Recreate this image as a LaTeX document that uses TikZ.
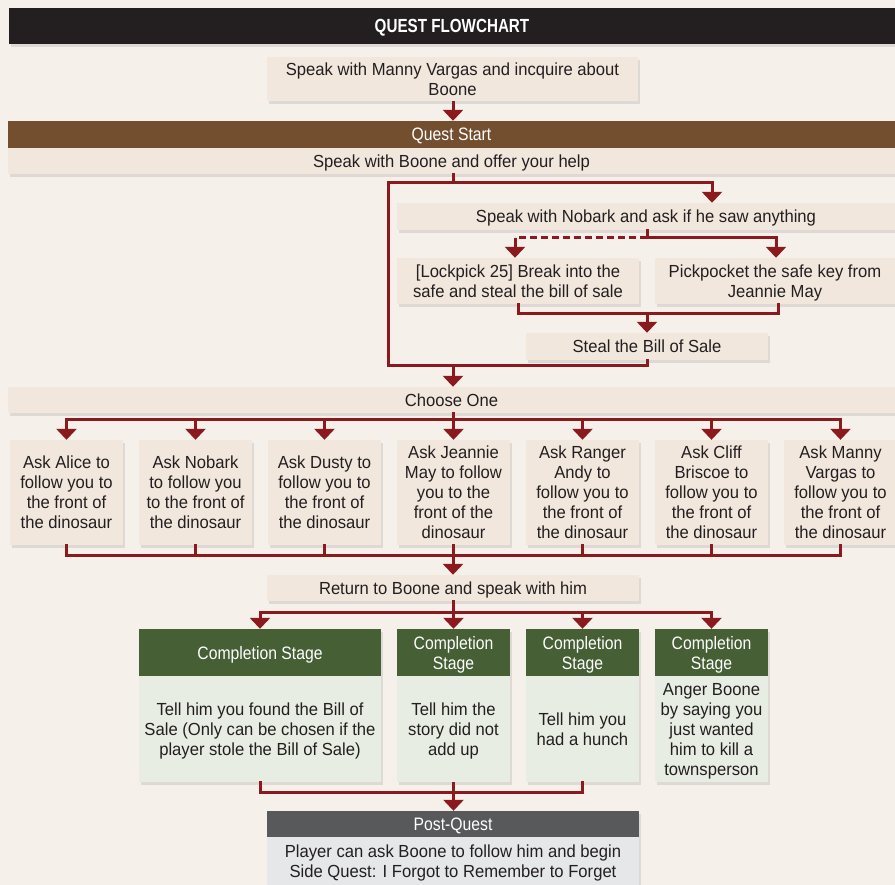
\documentclass[tikz,border=0pt]{standalone}
\usepackage{fontspec}
\setmainfont{Liberation Sans}[FakeStretch=0.95]
\newfontfamily\condfont{Liberation Sans}[FakeStretch=0.875]
\newfontfamily\ttlface{Liberation Sans}[FakeStretch=0.8]
\usetikzlibrary{arrows.meta,shadows}
\definecolor{bgc}{HTML}{F6F0EA}
\definecolor{boxc}{HTML}{F1E7DD}
\definecolor{titlec}{HTML}{231F20}
\definecolor{brownc}{HTML}{734F2F}
\definecolor{redc}{HTML}{8B1A1E}
\definecolor{greenc}{HTML}{465F34}
\definecolor{lgreen}{HTML}{E8EDE3}
\definecolor{greyc}{HTML}{58595B}
\definecolor{lgrey}{HTML}{E6E7E9}
\definecolor{txtc}{HTML}{231F20}
\newcommand\bodyfont{\fontsize{17.5}{20}\selectfont}
\newcommand\hdrfont{\condfont\fontsize{18}{20}\selectfont}
\newcommand\ttlfont{\ttlface\bfseries\fontsize{19}{20}\selectfont}
\begin{document}
\begin{tikzpicture}[x=1pt,y=-1pt,
  shade/.style={drop shadow={opacity=0.2,shadow xshift=2pt,shadow yshift=-3pt}},
  box/.style={shade,fill=boxc,draw=none,inner sep=0pt,align=center,text=txtc,font=\bodyfont,text depth=0pt},
  hdr/.style={shade,draw=none,inner sep=0pt,align=center,text=white,font=\hdrfont,text depth=0pt},
  askbox/.style={box,minimum width=113pt,minimum height=105pt},
  ghdr/.style={hdr,fill=greenc,minimum height=47pt},
  gbody/.style={box,fill=lgreen,minimum height=106pt},
  ln/.style={draw=redc,line width=3pt,line cap=rect,line join=miter},
  arr/.style={draw=redc,line width=3pt,line cap=butt,-{Triangle[width=20pt,length=11pt]}}
]
\fill[bgc] (0,0) rectangle (895,885);
\useasboundingbox (0,0) rectangle (895,885);

% title
\node[hdr,fill=titlec,minimum width=886pt,minimum height=36pt,font=\ttlfont] (title) at (452,26) {QUEST FLOWCHART};
\node[box,minimum width=371pt,minimum height=44pt] (manny) at (452.5,79) {Speak with Manny Vargas and incquire about\\Boone};
\node[hdr,fill=brownc,minimum width=887pt,minimum height=27pt] (qstart) at (451.5,134.5) {Quest Start};
\node[box,minimum width=887pt,minimum height=26pt] (boone) at (451.5,161) {Speak with Boone and offer your help};
\node[box,minimum width=498pt,minimum height=27pt] (nobark) at (646,216.5) {Speak with Nobark and ask if he saw anything};
\node[box,minimum width=242pt,minimum height=46pt] (lock) at (518,281) {[Lockpick 25] Break into the\\safe and steal the bill of sale};
\node[box,minimum width=240pt,minimum height=46pt] (pick) at (775,281) {Pickpocket the safe key from\\Jeannie May};
\node[box,minimum width=242pt,minimum height=27pt] (steal) at (647,346.5) {Steal the Bill of Sale};
\node[box,minimum width=887pt,minimum height=26pt] (choose) at (451.5,400) {Choose One};

\node[askbox] (ask1) at (66.5,492.5) {Ask Alice to\\follow you to\\the front of\\the dinosaur};
\node[askbox] (ask2) at (195.5,492.5) {Ask Nobark\\to follow you\\to the front of\\the dinosaur};
\node[askbox] (ask3) at (324.5,492.5) {Ask Dusty to\\follow you to\\the front of\\the dinosaur};
\node[askbox] (ask4) at (453.5,492.5) {Ask Jeannie\\May to follow\\you to the\\front of the\\dinosaur};
\node[askbox] (ask5) at (582.5,492.5) {Ask Ranger\\Andy to\\follow you to\\the front of\\the dinosaur};
\node[askbox] (ask6) at (711.5,492.5) {Ask Cliff\\Briscoe to\\follow you to\\the front of\\the dinosaur};
\node[askbox] (ask7) at (840.5,492.5) {Ask Manny\\Vargas to\\follow you to\\the front of\\the dinosaur};

\node[box,minimum width=372pt,minimum height=26pt] (ret) at (453,588) {Return to Boone and speak with him};

\node[ghdr,minimum width=242pt] (h1) at (260,652.5) {Completion Stage};
\node[gbody,minimum width=242pt] (g1) at (260,729) {Tell him you found the Bill of\\Sale (Only can be chosen if the\\player stole the Bill of Sale)};
\node[ghdr,minimum width=113pt] (h2) at (453.5,652.5) {Completion\\Stage};
\node[gbody,minimum width=113pt] (g2) at (453.5,729) {Tell him the\\story did not\\add up};
\node[ghdr,minimum width=113pt] (h3) at (582.5,652.5) {Completion\\Stage};
\node[gbody,minimum width=113pt] (g3) at (582.5,729) {Tell him you\\had a hunch};
\node[ghdr,minimum width=113pt] (h4) at (711.5,652.5) {Completion\\Stage};
\node[gbody,minimum width=113pt] (g4) at (711.5,729) {Anger Boone\\by saying you\\just wanted\\him to kill a\\townsperson};

\node[hdr,fill=greyc,minimum width=372pt,minimum height=26pt] (post) at (453,824) {Post-Quest};
\node[box,fill=lgrey,minimum width=372pt,minimum height=48pt] (postb) at (453,861) {Player can ask Boone to follow him and begin\\Side Quest: I Forgot to Remember to Forget};

% connectors
\draw[arr] (manny.south -| 453,0) -- (qstart.north -| 453,0);
\coordinate (b1) at (453,183);
\coordinate (bl) at (388,183);
\coordinate (br) at (712,183);
\coordinate (loopb) at (388,366);
\draw[ln] (boone.south -| b1) -- (b1);
\draw[ln] (bl) -- (br);
\draw[arr] (br) -- (br |- nobark.north);
\draw[ln] (bl) -- (loopb) -- (loopb -| steal.south) -- (steal.south);
\draw[arr] (loopb -| b1) -- (b1 |- choose.north);

\coordinate (n1) at (647,238);
\coordinate (nl) at (515,238);
\coordinate (nr) at (776,238);
\draw[ln] (nobark.south -| n1) -- (n1) -- (nr);
\draw[draw=redc,line width=3pt,dash pattern=on 7pt off 4pt] (n1) -- (nl);
\draw[arr] (nl) -- (nl |- lock.north);
\draw[arr] (nr) -- (nr |- pick.north);

\coordinate (s1) at (518,314);
\coordinate (s2) at (778,314);
\draw[ln] (lock.south -| s1) -- (s1) -- (s2) -- (pick.south -| s2);
\draw[arr] (s1 -| steal.north) -- (steal.north);

\coordinate (c0) at (453,420);
\draw[ln] (choose.south -| c0) -- (c0);
\draw[ln] (ask1.north |- c0) -- (ask7.north |- c0);
\foreach \i in {1,...,7} {\draw[arr] (ask\i.north |- c0) -- (ask\i.north);}
\coordinate (d0) at (453,555);
\foreach \i in {1,...,7} {\draw[ln] (ask\i.south) -- (ask\i.south |- d0);}
\draw[ln] (ask1.south |- d0) -- (ask7.south |- d0);
\draw[arr] (d0) -- (d0 |- ret.north);

\coordinate (r0) at (453,612);
\draw[ln] (ret.south -| r0) -- (r0);
\draw[ln] (h1.north |- r0) -- (h4.north |- r0);
\foreach \i in {1,...,4} {\draw[arr] (h\i.north |- r0) -- (h\i.north);}

\coordinate (e0) at (453,792);
\draw[ln] (g1.south) -- (g1.south |- e0) -- (g3.south |- e0) -- (g3.south);
\draw[arr] (g2.south) -- (g2.south |- post.north);
\end{tikzpicture}
\end{document}
